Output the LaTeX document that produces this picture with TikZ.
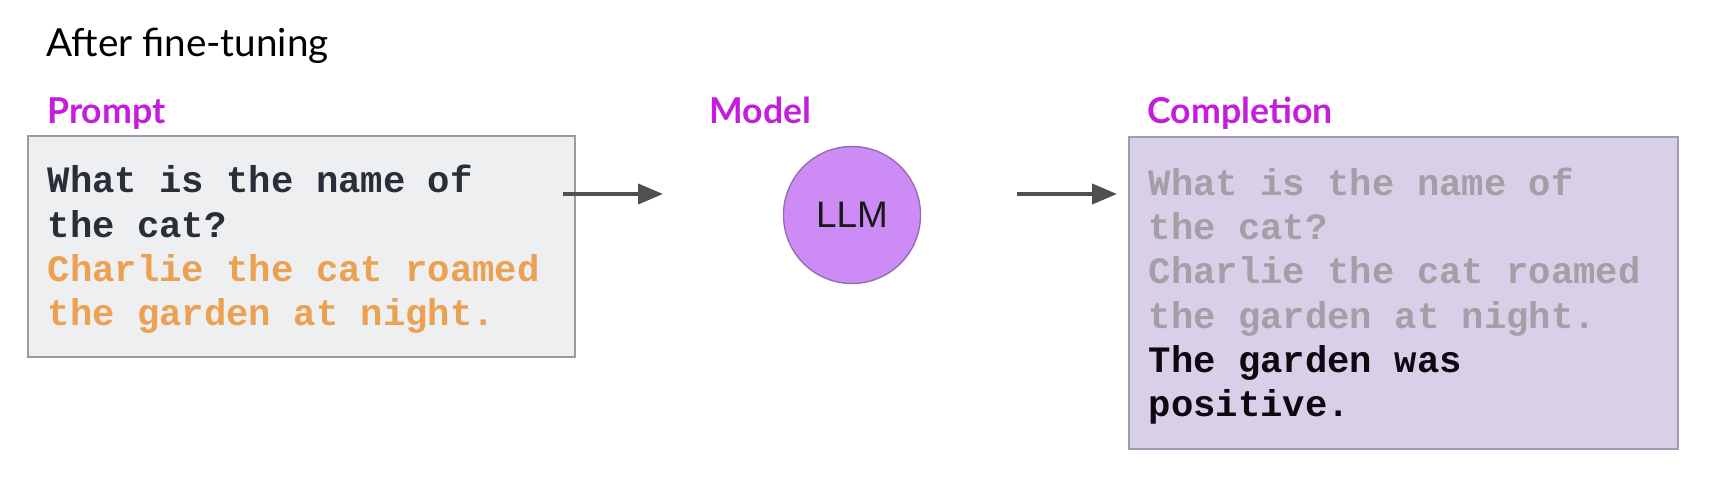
\documentclass[tikz,border=0pt]{standalone}
\usepackage{fontspec}
\setmainfont{Lato}
\newfontfamily\monofont{Liberation Mono}
\newfontfamily\arialfont{Liberation Sans}
\usetikzlibrary{arrows.meta}
\definecolor{heading}{RGB}{196,30,220}
\definecolor{orangetxt}{RGB}{236,160,82}
\definecolor{greytxt}{RGB}{162,160,166}
\definecolor{darktxt}{RGB}{42,46,56}
\definecolor{blacktxt}{RGB}{12,10,16}
\definecolor{promptfill}{RGB}{238,239,240}
\definecolor{promptline}{RGB}{155,155,158}
\definecolor{complfill}{RGB}{216,208,232}
\definecolor{complline}{RGB}{160,155,176}
\definecolor{llmfill}{RGB}{205,140,245}
\definecolor{llmline}{RGB}{150,110,175}
\definecolor{arrowgrey}{RGB}{80,80,82}
\newcommand{\fixspaces}{\spaceskip=0.6em\relax\xspaceskip=0.6em\relax}
\begin{document}
\begin{tikzpicture}[
	lbl/.style={anchor=base west, inner sep=0pt, text=heading, font=\fontsize{20.3}{23}\selectfont\bfseries},
	textbox/.style={anchor=north west, draw, line width=0.9pt, inner xsep=0.4cm, inner ysep=0pt, align=left, font=\monofont\bfseries\fontsize{21.2}{25.2}\selectfont},
	arr/.style={-{Triangle[length=0.5cm,width=0.4cm]}, line width=2.3pt, draw=arrowgrey}]
	\useasboundingbox (0,0) rectangle (34.18,-9.56);
	\node[anchor=base west, inner sep=0pt, font=\fontsize{22}{25}\selectfont] (title) at (0.92,-1.14){After fine-tuning};
	\node[lbl] (promptlbl) at (0.94,-2.48){Prompt};
	\node[lbl] (modellbl) at (14.18,-2.48){Model};
	\node[lbl] (compllbl) at (22.94,-2.48){Completion};
	\node[textbox, fill=promptfill, draw=promptline, minimum width=10.94cm, minimum height=4.42cm, text width=10.14cm] (prompt) at (0.54,-2.70){\fixspaces\rule{0pt}{0.68cm}\color{darktxt}What is the name of\\\color{darktxt}the cat?\\\color{orangetxt}Charlie the cat roamed\\\color{orangetxt}the garden at night.};
	\node[textbox, fill=complfill, draw=complline, minimum width=10.98cm, minimum height=6.24cm, text width=10.18cm] (completion) at (22.56,-2.72){\fixspaces\rule{0pt}{0.68cm}\color{greytxt}What is the name of\\\color{greytxt}the cat?\\\color{greytxt}Charlie the cat roamed\\\color{greytxt}the garden at night.\\\color{blacktxt}The garden was\\\color{blacktxt}positive.};
	\node[circle, fill=llmfill, draw=llmline, line width=0.8pt, minimum size=2.74cm, inner sep=0pt, font=\arialfont\fontsize{21}{24}\selectfont, text=black!90] (llm) at (17.04,-4.30){LLM};
	\coordinate (in1) at (11.26,-3.88); \coordinate (out1) at (13.26,-3.88);
	\coordinate (in2) at (20.34,-3.88); \coordinate (out2) at (22.34,-3.88);
	\draw[arr] (in1) -- (out1);
	\draw[arr] (in2) -- (out2);
\end{tikzpicture}
\end{document}
